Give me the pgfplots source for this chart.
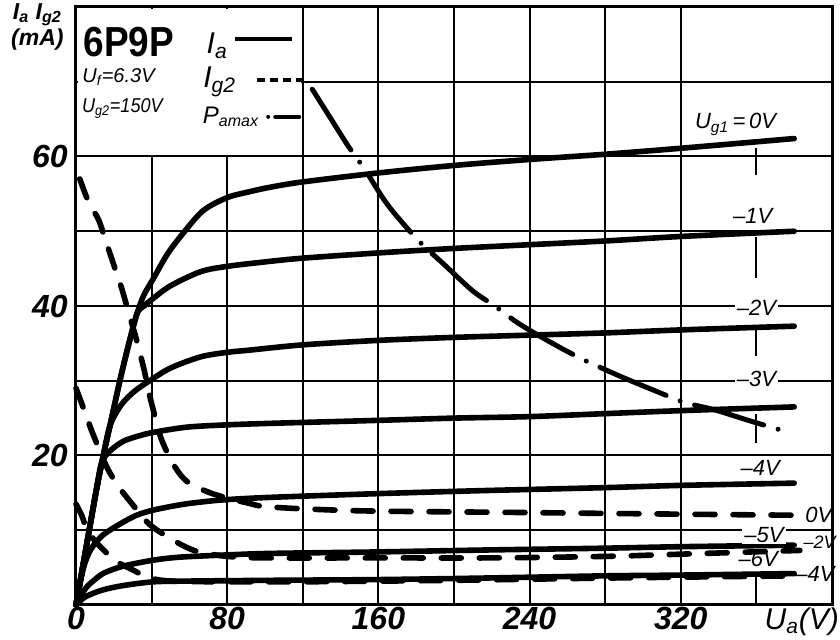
\documentclass[border=0pt]{standalone}
\usepackage{fontspec}
\setmainfont{Liberation Sans}
\usepackage{graphicx}
\usepackage{pgfplots}
\pgfplotsset{compat=1.18}

\begin{document}
\begin{tikzpicture}[
  ia/.style={black, line width=2.8pt, smooth, line cap=round, line join=round},
  ig/.style={black, line width=2.8pt, smooth, line cap=round, dash pattern=on 10pt off 9pt},
  pa/.style={black, line width=2.5pt, smooth, line cap=round, dash pattern=on 36pt off 7.5pt on 0pt off 7.5pt},
  lbl/.style={font=\itshape\fontsize{11}{11}\selectfont, inner sep=1pt},
]
\begin{axis}[
  name=ax,
  scale only axis, width=378pt, height=299pt,
  xmin=0, xmax=400, ymin=0, ymax=80,
  xtick={0,40,...,320}, xticklabels={0,,80,,160,,240,,320},
  ytick={0,10,...,70}, yticklabels={,,20,,40,,60,},
  major tick length=0pt,
  grid=major, grid style={black, line width=1pt},
  axis line style={line width=1.5pt},
  tick label style={font=\bfseries\itshape\fontsize{16}{16}\selectfont, inner sep=1pt},
  yticklabel style={xshift=-3pt},
  clip=false,
]
% box for the title block, no grid inside
\fill[white] (axis cs:0.9,60.25) rectangle (axis cs:119.1,79.75);
% pieces of the 360 V line
\draw[line width=1pt] (axis cs:360,57.5) -- (axis cs:360,61.2);
\draw[line width=1pt] (axis cs:360,43.8) -- (axis cs:360,49.2);
\draw[line width=1pt] (axis cs:360,33.3) -- (axis cs:360,37.0);
\draw[line width=1pt] (axis cs:360,21.7) -- (axis cs:360,25.5);
\draw[line width=1pt] (axis cs:360,0) -- (axis cs:360,4.3);

% Ia, Ug1 = 0 ... -6 V
\addplot[ia] coordinates {(0,0)(3.5,5)(7,10)(10.5,15)(14.3,19.8)(18,24)(23.3,30.1)(28,35)(32.3,39)(36,41.5)(40.8,43.6)(48,46.8)(55,49.2)(67,52.7)(80,54.5)(92,55.3)(103,55.9)(120,56.6)(160,57.8)(200,58.8)(240,59.6)(280,60.3)(320,61.1)(380,62.4)};
\addplot[ia] coordinates {(0,0)(3.5,5)(7,10)(10.5,15)(14.3,19.8)(18,24)(23.3,30.1)(28,35)(32.3,39)(36,40)(40.8,41)(50,42.7)(66,44.6)(80,45.3)(100,45.9)(120,46.4)(160,47.1)(200,47.7)(240,48.2)(280,48.7)(320,49.3)(380,50.0)};
\addplot[ia] coordinates {(0,0)(3.5,5)(7,10)(10.5,15)(14.3,19.8)(18,24)(24,26.8)(31,28.6)(39,30.0)(50,31.7)(66,33.2)(80,33.8)(92,34.1)(120,34.8)(160,35.4)(200,35.8)(240,36.1)(280,36.4)(320,36.8)(380,37.3)};
\addplot[ia] coordinates {(0,0)(3.5,5)(7,10)(10.5,15)(13.5,19)(18,20.6)(25,21.9)(33,22.6)(41,23.1)(59,23.8)(80,24.1)(103,24.3)(160,24.7)(200,25.0)(240,25.2)(280,25.6)(320,26.0)(380,26.5)};
\addplot[ia] coordinates {(0,0)(4,5)(8,7.5)(14,9.3)(23,10.8)(32,12)(41,12.7)(55,13.4)(67,13.8)(80,14.1)(103,14.4)(160,14.9)(215,15.3)(280,15.7)(320,16.0)(380,16.3)};
\addplot[ia] coordinates {(0,0)(5,2.2)(10,3.4)(15,4.3)(25,5.2)(41,6.0)(55,6.4)(80,6.7)(103,6.9)(160,7.1)(215,7.35)(280,7.6)(320,7.8)(380,8.0)};
\addplot[ia] coordinates {(0,0)(5,1.1)(14,2.0)(25,2.6)(41,3.1)(60,3.2)(103,3.3)(160,3.4)(215,3.6)(280,3.9)(320,4.0)(380,4.2)};

% Ig2, Ug1 = 0, -2, -4 V
\addplot[ig] coordinates {(2,57)(6.5,54)(12,51.5)(16,48.5)(20,45.5)(24,42.5)(28,39)(32,35.5)(36,31.5)(39,28)(42,25)(45,22.3)(50,19.5)(55,17.5)(60,16.3)(70,15.1)(80,14.3)(90,13.7)(103,13.1)(150,12.6)(225,12.4)(300,12.2)(383,12.0)};
\addplot[ig] coordinates {(0,29)(4,26.3)(8,23.5)(12,21)(16,18.6)(20,16.8)(25,15)(32,12.8)(38,11)(43,10)(50,8.9)(57,7.9)(65,7.1)(80,6.5)(100,6.3)(160,6.3)(220,6.3)(280,6.5)(320,6.8)(383,7.3)};
\addplot[ig] coordinates {(0,13.5)(3,12)(6,10)(11,8.3)(16,7)(20,6)(30,4.7)(38,3.7)(50,3.2)(80,3.1)(120,3.1)(200,3.3)(280,3.6)(381,3.9)};

% Pa max
\addplot[pa] coordinates {(125,69)(135,65)(144,61.4)(153,58.2)(165,53.5)(181,48.8)(195,45.5)(210,42)(221,40.1)(234,37.7)(250,35.3)(267,33)(287,30.7)(305,28.8)(322,27.1)(338,26.1)(357,24.6)(377,23.1)};

% curve labels
\node[lbl] at (axis cs:349,64.3) {U\textsubscript{g1}\,=\,0V};
\node[lbl] at (axis cs:358,52) {--1V};
\node[lbl, fill=white] at (axis cs:360,39.8) {--2V};
\node[lbl, fill=white] at (axis cs:360,30.3) {--3V};
\node[lbl, fill=white] at (axis cs:362,18.3) {--4V};
\node[lbl, fill=white] at (axis cs:364,9.4) {--5V};
\node[lbl] at (axis cs:361,6.1) {--6V};
\node[lbl] at (axis cs:393,12.0) {0V};
\node[lbl, font=\itshape\fontsize{9}{9}\selectfont] at (axis cs:393.5,8.4) {--2V};
\node[lbl] at (axis cs:391,4.1) {--4V};

% title block
\node[font=\bfseries\fontsize{21}{21}\selectfont, inner sep=0pt] at (axis cs:28,75.3) {\scalebox{0.88}[1]{6P9P}};
\node[font=\itshape\fontsize{10}{10}\selectfont, inner sep=0pt] at (axis cs:22.5,70.6) {U\textsubscript{f}=6.3V};
\node[font=\itshape\fontsize{10}{10}\selectfont, inner sep=0pt] at (axis cs:24.5,66.4) {\scalebox{0.9}[1]{U\textsubscript{g2}=150V}};
\node[font=\itshape\fontsize{15}{15}\selectfont, inner sep=0pt] at (axis cs:74.7,74.8) {I\textsubscript{a}};
\node[font=\itshape\fontsize{15}{15}\selectfont, inner sep=0pt] at (axis cs:76,70) {I\textsubscript{g2}};
\node[font=\itshape\fontsize{12}{12}\selectfont, inner sep=0pt] at (axis cs:82,65.3) {P\textsubscript{amax}};
\draw[line width=2pt] (axis cs:84,75.7) -- (axis cs:114.4,75.7);
\draw[line width=2pt, dash pattern=on 4pt off 2.5pt] (axis cs:96,70.2) -- (axis cs:119.5,70.2);
\draw[line width=2pt, line cap=round, dash pattern=on 0pt off 3.5pt on 12pt off 10pt] (axis cs:101.7,65.3) -- (axis cs:119.5,65.3);

% axis titles
\node[font=\bfseries\itshape\fontsize{11.5}{13}\selectfont, align=center, anchor=north east, inner sep=0pt]
  at ([xshift=-6pt,yshift=2pt]rel axis cs:0,1) {I\textsubscript{a} I\textsubscript{g2}\\(mA)};
\node[font=\itshape\fontsize{15}{15}\selectfont, anchor=north, inner sep=0pt] at ([yshift=-1pt]axis cs:384,0) {U\textsubscript{a}(V)};
\end{axis}
\pgfresetboundingbox
\path (ax.south west) ++(-38pt,-17.5pt) coordinate (bl);
\path (ax.north east) ++(4pt,3.5pt) coordinate (tr);
\path (bl) rectangle (tr);
\end{tikzpicture}
\end{document}
